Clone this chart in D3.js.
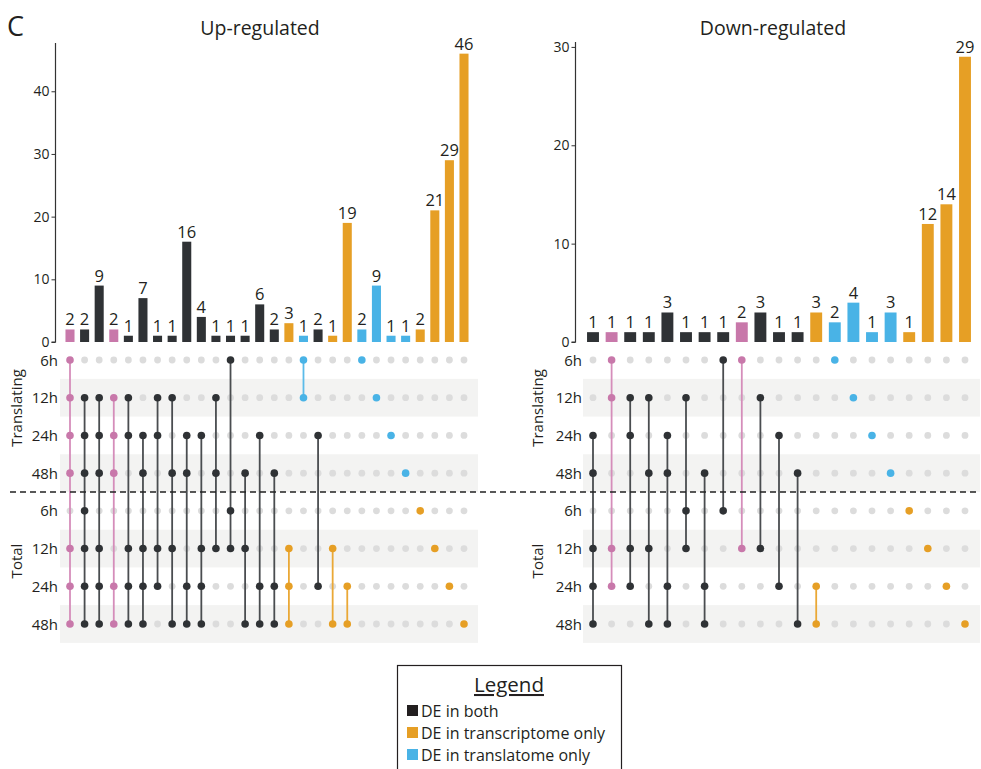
<!DOCTYPE html>
<html>
<head>
<meta charset="utf-8">
<script src="https://cdn.jsdelivr.net/npm/d3@7"></script>
<style>
  html, body { margin: 0; padding: 0; background: #fff; }
  svg { display: block; font-family: "Open Sans", "Noto Sans", sans-serif; }
</style>
</head>
<body>
<svg id="chart" width="981" height="769"></svg>
<script>
// Row labels of the intersection matrix (4 translating + 4 total time points)
const rowLabels = ["6h", "12h", "24h", "48h", "6h", "12h", "24h", "48h"];
const setGroups = ["Translating", "Total"];

// Up-regulated intersections: size, colour class, membership (one char per row)
const upValues = [2, 2, 9, 2, 1, 7, 1, 1, 16, 4, 1, 1, 1, 6, 2, 3, 1, 2, 1, 19, 2, 9, 1, 1, 2, 21, 29, 46];
const upClasses = ["pink", "both", "both", "pink", "both", "both", "both", "both", "both", "both", "both", "both", "both", "both",
                   "both", "tx", "tl", "both", "tx", "tx", "tl", "tl", "tl", "tl", "tx", "tx", "tx", "tx"];
const upMembers = ["11110111", "01111111", "01110111", "01110011", "01100111", "00110111", "01100110", "01010101",
                   "00110011", "00100111", "01010100", "10001100", "00010101", "00100011", "00010011", "00000111",
                   "11000000", "00100010", "00000101", "00000011", "10000000", "01000000", "00100000", "00010000",
                   "00001000", "00000100", "00000010", "00000001"];
const upTicks = [0, 10, 20, 30, 40];

// Down-regulated intersections
const downValues = [1, 1, 1, 1, 3, 1, 1, 1, 2, 3, 1, 1, 3, 2, 4, 1, 3, 1, 12, 14, 29];
const downClasses = ["both", "pink", "both", "both", "both", "both", "both", "both", "pink", "both", "both", "both", "tx",
                     "tl", "tl", "tl", "tl", "tx", "tx", "tx", "tx"];
const downMembers = ["00110111", "11000110", "01100110", "01010101", "00110011", "01001100", "00010011", "10001000",
                     "10000100", "01000100", "00100010", "00010001", "00000011", "10000000", "01000000", "00100000",
                     "00010000", "00001000", "00000100", "00000010", "00000001"];
const downTicks = [0, 10, 20, 30];

// Legend entries
const legendLabels = ["DE in both", "DE in transcriptome only", "DE in translatome only"];
const legendClasses = ["both", "tx", "tl"];

const barColor = { both: "#2f3235", pink: "#c878aa", tx: "#e69f25", tl: "#49b3e6" };
const lineColor = { both: "#4a4d50", pink: "#d58dba", tx: "#eaa836", tl: "#5bbbe9" };
const legendColor = { both: "#231f20", tx: "#e69f25", tl: "#49b3e6" };

const svg = d3.select("#chart");
const textColor = "#231f20";

// Shared vertical geometry
const barBase = 342;
const rowScale = d3.scalePoint().domain(d3.range(8)).range([360, 624]);
const rowStep = rowScale.step();

function drawPanel(cfg) {
  const g = svg.append("g");
  const n = cfg.values.length;
  const x = d3.scalePoint().domain(d3.range(n)).range([cfg.colFirst, cfg.colLast]);
  const bw = x.step() * cfg.barFrac;
  const y = d3.scaleLinear().domain([0, cfg.yMax]).range([barBase, cfg.axisTop]);

  // title
  g.append("text").attr("x", cfg.titleX).attr("y", 35).attr("text-anchor", "middle")
    .attr("font-size", 19.5).attr("fill", textColor).text(cfg.title);

  // bars
  g.selectAll("rect.bar").data(cfg.values).join("rect")
    .attr("class", "bar")
    .attr("x", (d, i) => x(i) - bw / 2)
    .attr("width", bw)
    .attr("y", d => y(d))
    .attr("height", d => barBase - y(d))
    .attr("fill", (d, i) => barColor[cfg.classes[i]]);

  // bar value labels
  g.selectAll("text.val").data(cfg.values).join("text")
    .attr("class", "val")
    .attr("x", (d, i) => x(i))
    .attr("y", d => y(d) - 4)
    .attr("text-anchor", "middle")
    .attr("font-size", 16.5)
    .attr("fill", textColor)
    .text(d => d);

  // y axis
  const axis = d3.axisLeft(y).tickValues(cfg.ticks).tickSize(4).tickPadding(2);
  const ag = g.append("g").attr("transform", `translate(${cfg.axisX},0)`).call(axis);
  ag.select(".domain").attr("stroke", "#333").attr("stroke-width", 1.2)
    .attr("d", `M-4,${y(0)}H0V${cfg.axisTop}`);
  ag.selectAll(".tick line").attr("stroke", "#333");
  ag.selectAll(".tick text").attr("font-size", 14).attr("fill", textColor)
    .attr("font-family", "Open Sans, Noto Sans, sans-serif");

  // matrix stripes
  g.selectAll("rect.stripe").data([1, 3, 5, 7]).join("rect")
    .attr("class", "stripe")
    .attr("x", cfg.stripeX0)
    .attr("width", cfg.stripeX1 - cfg.stripeX0)
    .attr("y", r => rowScale(r) - rowStep / 2)
    .attr("height", rowStep)
    .attr("fill", "#f3f3f2");

  // row labels
  g.selectAll("text.row").data(rowLabels).join("text")
    .attr("class", "row")
    .attr("x", cfg.rowLabelX)
    .attr("y", (d, i) => rowScale(i) + 5.5)
    .attr("text-anchor", "end")
    .attr("font-size", 15)
    .attr("fill", textColor)
    .text(d => d);

  // set group labels (rotated)
  g.selectAll("text.grp").data(setGroups).join("text")
    .attr("class", "grp")
    .attr("transform", (d, i) => `translate(${cfg.groupX},${i === 0 ? 408 : 561}) rotate(-90)`)
    .attr("text-anchor", "middle")
    .attr("font-size", 15)
    .attr("fill", textColor)
    .text(d => d);

  // background dots
  const cells = [];
  for (let c = 0; c < n; c++) for (let r = 0; r < 8; r++) cells.push({ c, r, on: cfg.members[c][r] === "1" });
  g.selectAll("circle.bg").data(cells.filter(d => !d.on)).join("circle")
    .attr("class", "bg")
    .attr("cx", d => x(d.c)).attr("cy", d => rowScale(d.r)).attr("r", 3.4)
    .attr("fill", "#dcdcdc");

  // connecting segments
  const segs = cfg.members.map((m, c) => {
    const idx = [];
    for (let r = 0; r < 8; r++) if (m[r] === "1") idx.push(r);
    return { c, lo: d3.min(idx), hi: d3.max(idx) };
  }).filter(s => s.hi > s.lo);
  g.selectAll("line.seg").data(segs).join("line")
    .attr("class", "seg")
    .attr("x1", d => x(d.c)).attr("x2", d => x(d.c))
    .attr("y1", d => rowScale(d.lo)).attr("y2", d => rowScale(d.hi))
    .attr("stroke", d => lineColor[cfg.classes[d.c]])
    .attr("stroke-width", 1.8);

  // active dots
  g.selectAll("circle.on").data(cells.filter(d => d.on)).join("circle")
    .attr("class", "on")
    .attr("cx", d => x(d.c)).attr("cy", d => rowScale(d.r)).attr("r", 3.8)
    .attr("fill", d => barColor[cfg.classes[d.c]]);
}

// panel letter
svg.append("text").attr("x", 7).attr("y", 36).attr("font-size", 27).attr("fill", textColor).text("C");

drawPanel({
  title: "Up-regulated", titleX: 260,
  values: upValues, classes: upClasses, members: upMembers, ticks: upTicks,
  colFirst: 70, colLast: 464, barFrac: 0.62, yMax: 47.7, axisTop: 43, axisX: 55.5,
  stripeX0: 60, stripeX1: 478, rowLabelX: 58, groupX: 22
});

drawPanel({
  title: "Down-regulated", titleX: 773,
  values: downValues, classes: downClasses, members: downMembers, ticks: downTicks,
  colFirst: 593, colLast: 965, barFrac: 0.64, yMax: 30.5, axisTop: 42, axisX: 575.5,
  stripeX0: 583, stripeX1: 980, rowLabelX: 582, groupX: 543
});

// dashed divider between translating and total rows
const divY = (rowScale(3) + rowScale(4)) / 2;
svg.append("line").attr("x1", 10).attr("x2", 980).attr("y1", divY).attr("y2", divY)
  .attr("stroke", "#222").attr("stroke-width", 1.3).attr("stroke-dasharray", "6,4");

// legend
const lg = svg.append("g");
lg.append("rect").attr("x", 397.5).attr("y", 665.5).attr("width", 224).attr("height", 120)
  .attr("fill", "#fff").attr("stroke", "#231f20").attr("stroke-width", 1.2);
lg.append("text").attr("x", 509).attr("y", 692).attr("text-anchor", "middle")
  .attr("font-size", 20.5).attr("fill", textColor).attr("text-decoration", "underline").text("Legend");
const items = lg.selectAll("g.item").data(legendLabels).join("g").attr("class", "item")
  .attr("transform", (d, i) => `translate(407,${711 + i * 22})`);
items.append("rect").attr("x", 0).attr("y", -6).attr("width", 11).attr("height", 11)
  .attr("fill", (d, i) => legendColor[legendClasses[i]]);
items.append("text").attr("x", 14).attr("y", 5.5).attr("font-size", 16).attr("fill", textColor).text(d => d);
</script>
</body>
</html>
